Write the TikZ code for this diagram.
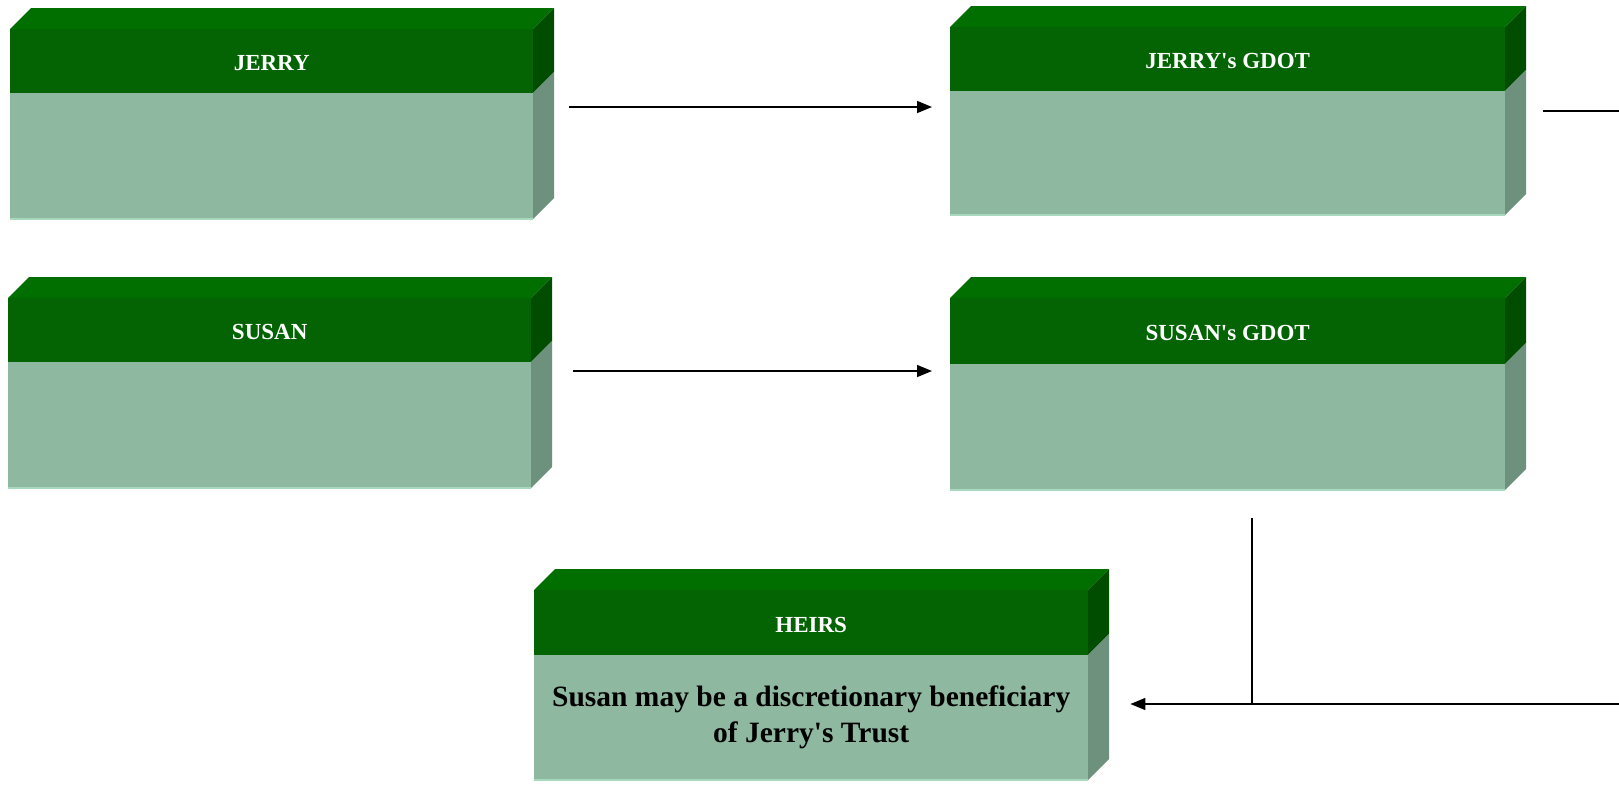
\documentclass[tikz,border=0pt]{standalone}
\usepackage{fontspec}
\setmainfont{Liberation Serif}[Ligatures=TeXOff]
\usetikzlibrary{arrows.meta,calc}
\definecolor{gtop}{HTML}{006F00}
\definecolor{ghead}{HTML}{046404}
\definecolor{gheadside}{HTML}{004D00}
\definecolor{gbody}{HTML}{8EB9A0}
\definecolor{gbodyside}{HTML}{6E917D}
\definecolor{gedge}{HTML}{A9D9BD}
\tikzset{
  headface/.style={fill=ghead, draw=none, inner sep=0pt, anchor=north west},
  bodyface/.style={fill=gbody, draw=none, inner sep=0pt, anchor=north west},
  titletext/.style={text=white, font=\bfseries\fontsize{23}{27}\selectfont},
  bodytext/.style={text=black, align=center, font=\bfseries\fontsize{29.5}{36}\selectfont},
  arr/.style={line width=1.5pt, -{Triangle[length=15pt,width=12pt]}},
  plain/.style={line width=1.5pt},
}
% #1 name, #2 x1, #3 x2, #4 ytop, #5 ymid, #6 ybot, #7 title, #8 body text
\newcommand\greenbox[8]{%
  \fill[gtop] (#2,#4) -- ++(21,-21) -- (#3+21,#4-21) -- (#3,#4) -- cycle;
  \fill[gheadside] (#3,#4) -- ++(21,-21) -- (#3+21,#5-21) -- (#3,#5) -- cycle;
  \fill[gbodyside] (#3,#5) -- ++(21,-21) -- (#3+21,#6-21) -- (#3,#6) -- cycle;
  \node[headface, minimum width=#3pt-#2pt, minimum height=#5pt-#4pt] (#1-h) at (#2,#4) {};
  \node[titletext] (#1-t) at ($(#1-h.center)+(0,2)$) {#7};
  \node[bodyface, minimum width=#3pt-#2pt, minimum height=#6pt-#5pt] (#1) at (#2,#5) {};
  \node[bodytext] (#1-b) at (#1.center) {#8};
  \draw[gedge, line width=1.5pt] (#2,#6) -- (#3,#6);
}
\begin{document}
\begin{tikzpicture}[x=1pt, y=-1pt]
\useasboundingbox (0,0) rectangle (1619,804);
\fill[white] (0,0) rectangle (1619,804);
\greenbox{jerry}{10}{533}{29}{93}{219}{JERRY}{}
\greenbox{jgdot}{950}{1505}{27}{91}{215}{JERRY's GDOT}{}
\greenbox{susan}{8}{531}{298}{362}{488}{SUSAN}{}
\greenbox{sgdot}{950}{1505}{298}{364}{490}{SUSAN's GDOT}{}
\greenbox{heirs}{534}{1088}{590}{655}{780}{HEIRS}{Susan may be a discretionary beneficiary\\of Jerry's Trust}
% connectors
\coordinate (j1) at ($(jerry.north east)+(36,14)$);
\coordinate (j2) at (jgdot.north west |- j1);
\draw[arr] (j1) -- ([xshift=-18pt]j2);
\coordinate (s1) at ($(susan.north east)+(42,9)$);
\coordinate (s2) at (sgdot.north west |- s1);
\draw[arr] (s1) -- ([xshift=-18pt]s2);
\coordinate (r1) at ($(jgdot.north east)+(38,20)$);
\coordinate (r2) at (1619,111);
\draw[plain] (r1) -- (r2);
\coordinate (b0) at (1619,704);
\coordinate (bv) at ($(sgdot.south)+(24.5,28)$);
\coordinate (bj) at (bv |- b0);
\coordinate (bh) at ($(heirs.east |- b0)+(42,0)$);
\draw[plain] (bv) -- (bj);
\draw[arr] (b0) -- (bh);
\end{tikzpicture}
\end{document}
